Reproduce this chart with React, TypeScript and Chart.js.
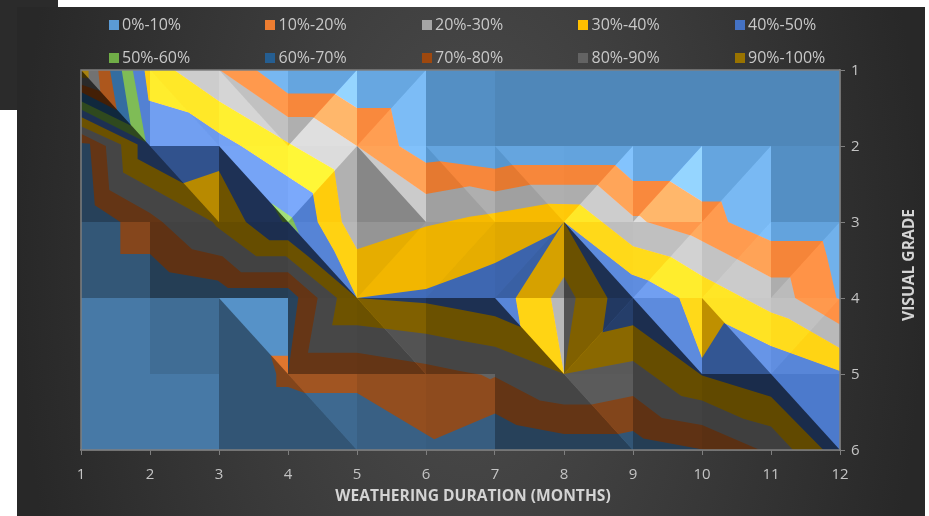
import React, { useEffect, useRef } from "react";
import { Chart, registerables } from "chart.js";

Chart.register(...registerables);

type P = [number, number];

const legendLabels = ["0%-10%", "10%-20%", "20%-30%", "30%-40%", "40%-50%", "50%-60%", "60%-70%", "70%-80%", "80%-90%", "90%-100%"];
const bandColors = ["#5B9BD5", "#ED7D31", "#A5A5A5", "#FFC000", "#4472C4", "#70AD47", "#255E91", "#9E480E", "#636363", "#997300"];
const monthTicks = [1, 2, 3, 4, 5, 6, 7, 8, 9, 10, 11, 12];
const gradeTicks = [1, 2, 3, 4, 5, 6];
const xAxisTitle = "WEATHERING DURATION (MONTHS)";
const yAxisTitle = "VISUAL GRADE";

// Contour outlines: (months, visual grade)
const level0: P[] = [[1, 1], [12, 1], [12, 6], [1, 6]];
const level10: P[] = [[1, 1], [3.54, 1], [4, 1.31], [4.67, 1.31], [5, 1.5], [5.49, 1.5], [5.61, 2], [6, 2.22], [6.2, 2.2], [7, 2.3], [7.24, 2.25], [8.74, 2.25], [9, 2.46], [9.53, 2.46], [10, 2.73], [10.28, 2.73], [10.38, 3], [11, 3.25], [11.75, 3.25], [11.81, 3.45], [11.95, 4], [12, 4.02], [12, 6], [10.05, 6], [9.15, 5.85], [9, 5.75], [8.79, 5.79], [8, 5.79], [7.31, 5.67], [7, 5.52], [6.12, 5.86], [5, 5.25], [4.24, 5.25], [4, 5.17], [3.83, 5.17], [3.83, 5], [4, 5], [4.15, 3.99], [4, 3.87], [3.13, 3.87], [2.98, 3.77], [2.28, 3.66], [2, 3.42], [1.57, 3.42], [1.57, 3], [1.2, 2.78], [1.13, 1.97], [1, 1.96]];
const level10Tip: P[] = [[3.75, 4.76], [4, 4.76], [4, 5], [3.83, 5]];
const level20: P[] = [[1, 1], [3.01, 1], [4, 1.62], [4.36, 1.62], [5, 2], [6, 2.63], [6.63, 2.53], [7, 2.6], [7.51, 2.51], [8.48, 2.51], [9, 2.92], [9.1, 2.92], [9.2, 3], [9.85, 3.18], [10.53, 3.5], [11, 3.73], [11.28, 3.73], [11.35, 4], [12, 4.35], [12, 6], [10.84, 6], [10, 5.67], [9.42, 5.58], [9, 5.29], [8.4, 5.4], [8, 5.4], [7.65, 5.35], [7, 5.04], [6.93, 5.07], [6.8, 5.01], [6.49, 4.96], [6, 4.87], [5, 4.72], [4.29, 4.72], [4.43, 4], [4, 3.66], [3.32, 3.66], [3.05, 3.45], [2.61, 3.36], [2.18, 3], [2, 2.88], [1.41, 2.58], [1.36, 2], [1, 1.84]];
const level30: P[] = [[1, 1], [2.35, 1], [3, 1.41], [4.01, 1.96], [4.67, 2.31], [4.78, 3], [5, 3.36], [6, 3.06], [6.63, 2.93], [7, 2.88], [7.77, 2.76], [8.23, 2.77], [9, 3.32], [9.55, 3.46], [10, 3.71], [11, 4.19], [11.25, 4.27], [12, 4.66], [12, 6], [11.32, 6], [11, 5.69], [10.6, 5.59], [10, 5.35], [9.7, 5.29], [9, 4.83], [8, 5], [7, 4.64], [6.49, 4.56], [6, 4.47], [5, 4.36], [4.64, 4.36], [4.71, 4], [3.97, 3.45], [3.54, 3.45], [2.96, 3.06], [2.91, 3], [1.61, 2.35], [1.58, 1.98], [1, 1.74]];
const level40Left: P[] = [[1, 1], [1.92, 1], [1.98, 1.4], [2.56, 1.56], [3, 1.83], [3.32, 2], [4.36, 2.62], [4.43, 3], [4.67, 3.38], [5, 4], [4.29, 3.45], [4, 3.24], [3.73, 3.24], [3.39, 3], [3, 2.33], [2.48, 2.49], [1.82, 2.17], [1.82, 1.98], [1, 1.62]];
const level40Middle: P[] = [[5, 4], [6, 3.88], [6.63, 3.67], [7, 3.54], [7.87, 3.14], [8, 3], [7.3, 4], [7.37, 4.38], [7, 4.24], [6.49, 4.15], [6, 4.07]];
const level40Right: P[] = [[8, 3], [8.98, 3.69], [9.22, 3.77], [9.67, 4], [10, 4.79], [10.32, 4.33], [11, 4.63], [12, 4.96], [12, 6], [11.76, 6], [11, 5.3], [10, 5.02], [9, 4.36], [8.56, 4.45], [8.63, 4]];
const level20Diamond: P[] = [[8, 3.72], [8.17, 4], [8, 5], [7.81, 4]];
const level50Corner: P[] = [[1, 1], [1.75, 1], [1.94, 1.95], [1, 1.52]];
const level50Island: P[] = [[3.76, 2.75], [4.06, 2.94], [4.16, 3.15], [4, 3], [3.92, 3]];
const level60Corner: P[] = [[1, 1], [1.59, 1], [1.72, 1.73], [1, 1.41]];
const level70Corner: P[] = [[1, 1], [1.42, 1], [1.52, 1.53], [1, 1.29]];
const level80Corner: P[] = [[1, 1], [1.25, 1], [1.28, 1.28], [1, 1.19]];
const level90Corner: P[] = [[1, 1], [1.11, 1], [1.11, 1.11], [1, 1.1]];

// Painted in this order: [outline, index of the legend colour]
const contourLayers: [P[], number][] = [
  [level0, 0], [level10, 1], [level10Tip, 1], [level20, 2], [level30, 3],
  [level40Left, 4], [level40Middle, 4], [level40Right, 4], [level20Diamond, 2],
  [level50Corner, 5], [level50Island, 5], [level60Corner, 6], [level70Corner, 7],
  [level80Corner, 8], [level90Corner, 9],
];

// Surface facets: each grid cell splits along one diagonal. S = rising, B = falling
const cellDiagonals = ["BBBSSSSSSSS", "SBBSBBBSSSS", "SSSBSSSBSSS", "SSBSBSBSBBS", "SSSBSSSBSSB"];
// Shade pairs per cell: negative darkens by that percent, positive adds light
const facetShades: [number, number][][] = [
  [[15, -58], [40, 45], [28, 48], [10, 58], [12, 33], [-8, -8], [-13, -13], [-13, -13], [-13, -13], [-13, -13], [-13, -13]],
  [[-58, -58], [-28, -58], [50, -57], [55, 12], [38, -18], [10, -3], [10, -3], [8, 40], [12, 58], [10, 30], [-8, -8]],
  [[-44, -44], [-60, -60], [-60, -60], [18, -58], [-10, -5], [-7, -10], [-12, -16], [25, -58], [27, 45], [30, 38], [8, 22]],
  [[-22, -22], [-30, -30], [-6, -45], [-57, -57], [-50, -58], [-58, -58], [20, -58], [-50, -46], [25, -60], [35, -25], [28, 20]],
  [[-22, -22], [-22, -22], [-45, -45], [-32, -45], [-38, -38], [-40, -40], [-58, -58], [-45, -58], [-60, -60], [-62, -62], [8, -62]],
];

const FONT = '"Open Sans", "Noto Sans", sans-serif';

function polygon(points: P[], color: string, blend: string) {
  return {
    data: points.map(([x, y]) => ({ x, y })),
    showLine: true,
    fill: "shape",
    tension: 0,
    borderWidth: 0,
    pointRadius: 0,
    backgroundColor: color,
    blend,
  };
}

function facetDataset(points: P[], shade: number) {
  if (shade === 0) return null;
  if (shade > 0) return polygon(points, `rgb(${shade},${shade},${shade})`, "lighter");
  const g = Math.round(255 * (1 + shade / 100));
  return polygon(points, `rgb(${g},${g},${g})`, "multiply");
}

function buildDatasets() {
  const sets: any[] = contourLayers.map(([pts, c]) => polygon(pts, bandColors[c], "source-over"));
  facetShades.forEach((row, r) => {
    row.forEach(([a, b], c) => {
      const x0 = monthTicks[c];
      const x1 = monthTicks[c + 1];
      const y0 = gradeTicks[r];
      const y1 = gradeTicks[r + 1];
      if (a === b) {
        const whole = facetDataset([[x0, y0], [x1, y0], [x1, y1], [x0, y1]], a);
        if (whole) sets.push(whole);
        return;
      }
      const rising = cellDiagonals[r][c] === "S";
      const first: P[] = rising ? [[x0, y0], [x1, y0], [x0, y1]] : [[x0, y0], [x1, y0], [x1, y1]];
      const second: P[] = rising ? [[x1, y0], [x1, y1], [x0, y1]] : [[x0, y0], [x1, y1], [x0, y1]];
      const fa = facetDataset(first, a);
      const fb = facetDataset(second, b);
      if (fa) sets.push(fa);
      if (fb) sets.push(fb);
    });
  });
  return sets.reverse(); // Chart.js paints the last dataset first
}

const blendPlugin = {
  id: "facetBlend",
  beforeDatasetsDraw(chart: any) {
    const ds = chart.data.datasets;
    chart.ctx.globalCompositeOperation = ds[ds.length - 1].blend;
  },
  afterDatasetDraw(chart: any, args: any) {
    const next = chart.data.datasets[args.index - 1];
    chart.ctx.globalCompositeOperation = next ? next.blend : "source-over";
  },
  afterDatasetsDraw(chart: any) {
    chart.ctx.globalCompositeOperation = "source-over";
    const { left, right, top, bottom } = chart.chartArea;
    const ctx = chart.ctx;
    ctx.save();
    ctx.strokeStyle = "#7f7f7f";
    ctx.lineWidth = 1.5;
    ctx.strokeRect(left, top, right - left, bottom - top);
    ctx.restore();
  },
  afterDraw(chart: any) {
    const ctx = chart.ctx;
    ctx.save();
    ctx.font = `bold 15.6px ${FONT}`;
    ctx.fillStyle = "#d4d4d4";
    ctx.textAlign = "center";
    ctx.textBaseline = "middle";
    ctx.fillText(xAxisTitle, 473, 496.5);
    ctx.translate(910, 265);
    ctx.rotate(-Math.PI / 2);
    ctx.fillText(yAxisTitle, 0, 0);
    ctx.restore();
  },
};

export default function App() {
  const ref = useRef<HTMLCanvasElement>(null);
  useEffect(() => {
    const chart = new Chart(ref.current as HTMLCanvasElement, {
      type: "scatter",
      data: { datasets: buildDatasets() as any },
      plugins: [blendPlugin],
      options: {
        animation: false,
        responsive: false,
        devicePixelRatio: 1,
        layout: { padding: { left: 81, top: 70, right: 0, bottom: 0 } },
        plugins: { legend: { display: false }, tooltip: { enabled: false }, title: { display: false } },
        scales: {
          x: {
            type: "linear",
            position: "bottom",
            min: 1,
            max: 12,
            afterFit: (s: any) => { s.height = 66; },
            afterBuildTicks: (s: any) => { s.ticks = monthTicks.map((value) => ({ value })); },
            grid: { drawOnChartArea: false, tickLength: 5, color: "#7f7f7f", tickColor: "#7f7f7f" },
            border: { color: "#7f7f7f", width: 1.5 },
            ticks: { color: "#c4c4c4", font: { family: FONT, size: 15 }, padding: 11, maxRotation: 0, autoSkip: false },
          },
          y: {
            type: "linear",
            position: "right",
            reverse: true,
            min: 1,
            max: 6,
            afterFit: (s: any) => { s.width = 89; },
            afterBuildTicks: (s: any) => { s.ticks = gradeTicks.map((value) => ({ value })); },
            grid: { drawOnChartArea: false, tickLength: 5, color: "#7f7f7f", tickColor: "#7f7f7f" },
            border: { color: "#7f7f7f", width: 1.5 },
            ticks: { color: "#c4c4c4", font: { family: FONT, size: 15 }, padding: 6, labelOffset: 1, autoSkip: false },
          },
        },
      } as any,
    });
    return () => chart.destroy();
  }, []);

  return (
    <div style={{ position: "absolute", left: 0, top: 0, width: 929, height: 516, background: "#ffffff", overflow: "hidden" }}>
      <div style={{ position: "absolute", left: 0, top: 0, width: 58, height: 110, background: "#2b2b2b" }} />
      <div style={{ position: "absolute", left: 17, top: 7, width: 908, height: 509, background: "radial-gradient(454px 800px at 50% 50%, #4e4e4e 0%, #282828 100%)" }} />
      <canvas ref={ref} width={929} height={516} style={{ position: "absolute", left: 0, top: 0, width: 929, height: 516 }} />
      {legendLabels.map((label, i) => {
        const col = i % 5;
        const row = Math.floor(i / 5);
        const x = 108.5 + col * 156.5;
        const y = 20 + row * 32.5;
        return (
          <div key={label}>
            <div style={{ position: "absolute", left: x, top: y, width: 10, height: 10, background: bandColors[i] }} />
            <div style={{ position: "absolute", left: x + 13.5, top: y - 7, height: 22, font: `16px/22px ${FONT}`, color: "#c8c8c8", whiteSpace: "nowrap" }}>{label}</div>
          </div>
        );
      })}
    </div>
  );
}
